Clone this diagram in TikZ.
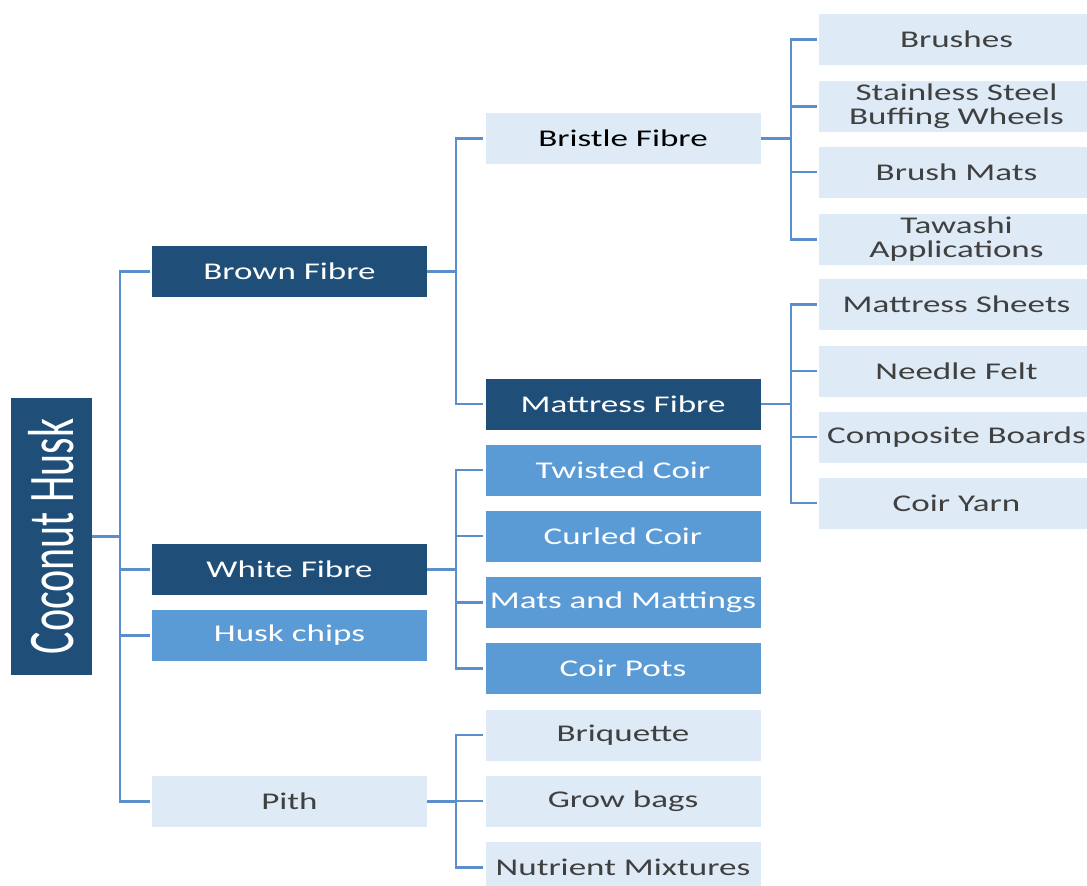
\documentclass[tikz,border=0pt]{standalone}
\usepackage{fontspec}
\setmainfont{Carlito}
\newfontfamily\boxfont{Carlito}[FakeStretch=1.46]
\definecolor{navy}{HTML}{1F4E79}
\definecolor{midblue}{HTML}{5B9BD5}
\definecolor{paleblue}{HTML}{DEEAF6}
\definecolor{linkblue}{HTML}{5A8FCC}
\definecolor{txtgray}{HTML}{404040}
\tikzset{
  box/.style={rectangle, minimum width=275pt, minimum height=51pt, inner sep=0pt,
    font=\boxfont\fontsize{24}{24}\selectfont, align=center},
  darkbox/.style={box, fill=navy, text=white},
  midbox/.style={box, fill=midblue, text=white},
  palebox/.style={box, fill=paleblue, text=txtgray},
  conn/.style={draw=linkblue, line width=2.2pt},
}
\begin{document}
\begin{tikzpicture}[x=1pt, y=-1pt]
\clip (0,0) rectangle (1087,886);
\fill[white] (0,0) rectangle (1087,886);

% root
\node[fill=navy, text=white, minimum width=81pt, minimum height=277pt, inner sep=0pt]
  (root) at (51.5,536.5)
  {\rotatebox{90}{\scalebox{1}[1.55]{\fontsize{42}{42}\selectfont Coconut Husk}}};

% first level
\node[darkbox] (brown) at (289.5,271.5) {Brown Fibre};
\node[darkbox] (white) at (289.5,569.5) {White Fibre};
\node[midbox]  (chips) at (289.5,635.5) {Husk chips};
\node[palebox] (pith)  at (289.5,801.5) {Pith};

% second level
\node[palebox, text=black] (bristle) at (623,138.5) {Bristle Fibre};
\node[darkbox] (mattress) at (623,404) {Mattress Fibre};
\node[midbox] (twisted) at (623,470) {Twisted Coir};
\node[midbox] (curled)  at (623,536) {Curled Coir};
\node[midbox] (mats)    at (623,602.5) {Mats and Mattings};
\node[midbox] (pots)    at (623,668.5) {Coir Pots};
\node[palebox] (briq)   at (623,735) {Briquette};
\node[palebox] (grow)   at (623,801) {Grow bags};
\node[palebox] (nutr)   at (623,867.5) {Nutrient Mixtures};

% third level
\node[palebox] (brushes)   at (956.5,39.5) {Brushes};
\node[palebox] (steel)     at (956.5,106.5) {Stainless Steel\\Buffing Wheels};
\node[palebox] (brushmats) at (956.5,172) {Brush Mats};
\node[palebox] (tawashi)   at (956.5,239.5) {Tawashi\\Applications};
\node[palebox] (sheets)    at (956.5,304.5) {Mattress Sheets};
\node[palebox] (felt)      at (956.5,371) {Needle Felt};
\node[palebox] (boards)    at (956.5,437) {Composite Boards};
\node[palebox] (yarn)      at (956.5,503) {Coir Yarn};

% connectors
\draw[conn] (root.east) -- ++(28,0) coordinate (j0);
\foreach \c in {brown, white, chips, pith}
  \draw[conn] (j0) |- ([xshift=-2pt]\c.west);

\draw[conn] (brown.east) -- ++(29,0) coordinate (j1);
\foreach \c in {bristle, mattress}
  \draw[conn] (j1) |- ([xshift=-2pt]\c.west);

\draw[conn] (white.east) -- ++(29,0) coordinate (j2);
\foreach \c in {twisted, curled, mats, pots}
  \draw[conn] (j2) |- ([xshift=-2pt]\c.west);

\draw[conn] (pith.east) -- ++(29,0) coordinate (j3);
\foreach \c in {briq, grow, nutr}
  \draw[conn] (j3) |- ([xshift=-2pt]\c.west);

\draw[conn] (bristle.east) -- ++(30,0) coordinate (j4);
\foreach \c in {brushes, steel, brushmats, tawashi}
  \draw[conn] (j4) |- ([xshift=-2pt]\c.west);

\draw[conn] (mattress.east) -- ++(30,0) coordinate (j5);
\foreach \c in {sheets, felt, boards, yarn}
  \draw[conn] (j5) |- ([xshift=-2pt]\c.west);
\end{tikzpicture}
\end{document}
